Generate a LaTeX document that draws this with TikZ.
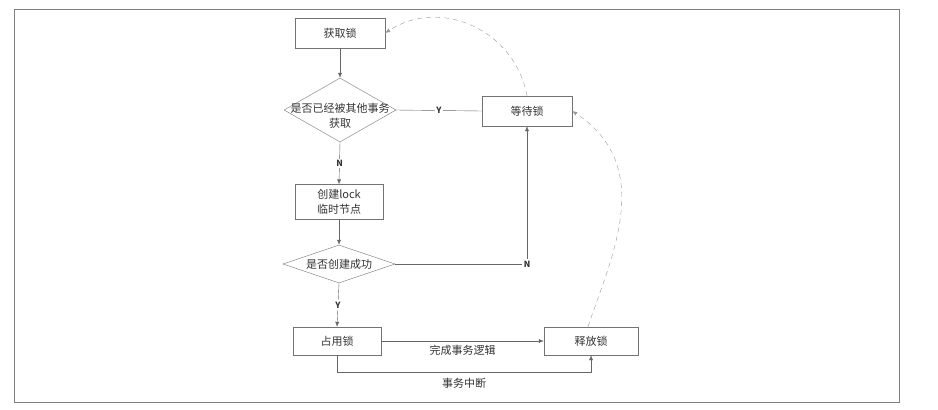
\documentclass[tikz,border=0pt]{standalone}
\usepackage{fontspec}
\setmainfont{Noto Sans CJK SC}
\usetikzlibrary{shapes.geometric,arrows.meta}

\begin{document}
\begin{tikzpicture}[x=1pt, y=-1pt,
    every node/.style={text=black!80, font=\fontsize{11}{15}\selectfont},
    box/.style={draw=black!55, minimum width=90pt, minimum height=30pt, inner sep=2pt, align=center},
    decision/.style={draw=black!55, diamond, minimum width=112pt, minimum height=64pt, inner sep=0pt},
    flow/.style={draw=black!60, ->},
    back/.style={draw=black!40, dash pattern=on 5pt off 4pt, ->},
    tag/.style={fill=white, inner sep=1.5pt, font=\fontsize{8.5}{10}\selectfont\bfseries},
    >={Latex[length=5pt, width=4pt]}]
    \useasboundingbox (0,0) rectangle (938,410);
    % Frame
    \draw[black!50, line width=0.8pt] (14,9) rectangle (899,402);

    % Steps
    \node[box] (get) at (340,33) {获取锁};
    \node[decision] (ask) at (340,110) {};
    \node[align=center] (askt) at (340,116) {是否已经被其他事务\\获取};
    \node[box] (wait) at (527,111) {等待锁};
    \node[box, minimum width=88pt, minimum height=35pt] (make) at (339,202) {创建lock\\临时节点};
    \node[decision, minimum height=38pt] (ok) at (339,264) {};
    \node (okt) at (339,264) {是否创建成功};
    \node[box, minimum width=88pt, minimum height=28pt] (hold) at (337,341) {占用锁};
    \node[box, minimum width=94pt, minimum height=28pt] (free) at (591,341) {释放锁};

    % Flow
    \draw[flow] (get) -- (ask);
    \draw[flow, -] (ask.east) -- node[tag] {Y} (wait.west);
    \draw[flow] (ask.south) -- node[tag] {N} (make.north);
    \draw[flow] (make) -- (ok);
    \draw[flow] (ok.south) -- node[tag] {Y} (hold.north);
    \draw[flow] (ok.east) -| node[tag] {N} (wait.south);
    \draw[flow] (hold.east) -- node[below=1pt] {完成事务逻辑} (free.west);
    \draw[flow] (hold.south) -- ++(0,17) -| node[pos=0.25, below=2pt] {事务中断} (free.south);

    % Retry
    \draw[back] (wait.north) .. controls +(-12,-66) and +(55,-36) .. (get.east);
    \draw[back] ([xshift=-3pt]free.north) .. controls +(22,-67) and +(85,56) .. (wait.east);
\end{tikzpicture}
\end{document}
